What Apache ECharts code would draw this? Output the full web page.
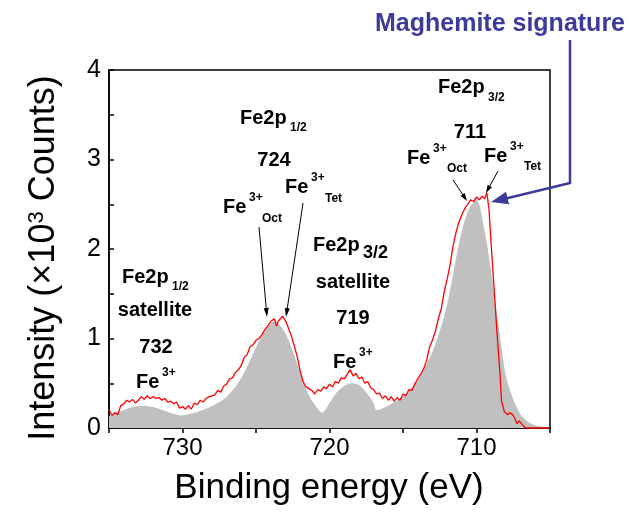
<!DOCTYPE html>
<html><head><meta charset="utf-8">
<script src="https://cdn.jsdelivr.net/npm/echarts@6/dist/echarts.min.js"></script>
<style>html,body{margin:0;padding:0;background:#fff}#c{width:643px;height:512px}</style>
</head><body><div id="c"></div><script>
// Reference (grey) spectrum
const refEnergy = [735.0,734.5,734.0,733.5,733.0,732.6,732.0,731.5,731.0,730.5,730.1,729.5,729.0,728.5,728.0,727.5,727.0,726.5,726.0,725.5,725.0,724.5,724.0,723.8,723.5,723.0,722.5,722.0,721.5,721.0,720.5,720.0,719.5,719.0,718.5,718.0,717.5,717.0,716.8,716.0,715.5,715.0,714.5,714.0,713.5,713.0,712.5,712.0,711.5,711.0,710.5,710.0,709.5,709.0,708.5,708.0,707.5,707.0,706.5,706.0,705.5,705.0];
const refCounts = [0.13,0.17,0.20,0.23,0.245,0.25,0.235,0.21,0.18,0.155,0.14,0.16,0.18,0.21,0.245,0.29,0.35,0.44,0.56,0.72,0.90,1.06,1.17,1.19,1.17,1.06,0.86,0.62,0.40,0.26,0.17,0.28,0.40,0.47,0.50,0.48,0.40,0.28,0.20,0.25,0.30,0.35,0.43,0.53,0.68,0.85,1.08,1.38,1.80,2.20,2.45,2.55,2.25,1.75,1.15,0.58,0.32,0.15,0.07,0.03,0.015,0.01];
// Measured (red) spectrum
const sampleEnergy = [735.0,734.8,734.6,734.4,734.2,734.0,733.8,733.6,733.4,733.2,733.0,732.8,732.6,732.4,732.2,732.0,731.8,731.6,731.4,731.2,731.0,730.8,730.6,730.4,730.2,730.0,729.8,729.6,729.4,729.2,729.0,728.8,728.6,728.4,728.2,728.0,727.8,727.6,727.4,727.2,727.0,726.8,726.6,726.4,726.2,726.0,725.8,725.6,725.4,725.2,725.0,724.8,724.6,724.4,724.2,724.0,723.9,723.75,723.6,723.5,723.35,723.2,723.0,722.8,722.6,722.4,722.2,722.0,721.8,721.6,721.4,721.2,721.0,720.8,720.6,720.4,720.2,720.0,719.8,719.6,719.4,719.2,719.0,718.8,718.6,718.4,718.2,718.0,717.8,717.6,717.4,717.2,717.0,716.8,716.6,716.4,716.2,716.0,715.8,715.6,715.4,715.2,715.0,714.8,714.6,714.4,714.2,714.0,713.8,713.6,713.4,713.2,713.0,712.8,712.6,712.4,712.2,712.0,711.8,711.6,711.4,711.2,711.0,710.8,710.6,710.4,710.2,710.0,709.8,709.6,709.45,709.3,709.15,709.0,708.8,708.6,708.4,708.3,708.1,707.9,707.7,707.5,707.35,707.25,707.1,707.0,706.85,706.65,706.0,705.0];
const sampleCounts = [0.21,0.14,0.17,0.15,0.25,0.27,0.31,0.29,0.32,0.28,0.31,0.35,0.32,0.36,0.33,0.35,0.33,0.34,0.31,0.33,0.29,0.30,0.27,0.29,0.22,0.24,0.21,0.25,0.21,0.28,0.26,0.31,0.29,0.33,0.35,0.36,0.37,0.42,0.40,0.47,0.49,0.55,0.56,0.62,0.65,0.70,0.79,0.82,0.91,0.93,0.98,1.00,1.04,1.10,1.14,1.19,1.21,1.22,1.14,1.19,1.22,1.25,1.20,1.12,1.03,0.92,0.80,0.64,0.52,0.46,0.44,0.42,0.38,0.43,0.41,0.46,0.44,0.49,0.46,0.52,0.50,0.56,0.55,0.60,0.65,0.58,0.61,0.55,0.57,0.50,0.52,0.45,0.43,0.38,0.39,0.33,0.36,0.31,0.35,0.30,0.34,0.31,0.38,0.36,0.43,0.42,0.49,0.55,0.60,0.66,0.75,0.90,0.98,1.08,1.22,1.33,1.52,1.66,1.82,2.03,2.18,2.30,2.38,2.45,2.50,2.55,2.53,2.58,2.55,2.59,2.56,2.63,2.45,2.05,1.55,1.05,0.60,0.30,0.18,0.15,0.17,0.14,0.09,0.05,0.08,0.07,0.03,0.0,0.0,0.0];
const xTickLabels = [730,720,710];
const yTickLabels = [0,1,2,3,4];

const FF = '"Liberation Sans", Arial, Helvetica, sans-serif';
const chart = echarts.init(document.getElementById('c'), null, {renderer:'canvas'});

function t(s, x, y, size, align, color) {
  return {type:'text', x:x, y:y, z:100, style:{text:s, fontSize:size, fontWeight:'bold', fontFamily:FF,
    fill: color || '#000', align: align || 'left', verticalAlign:'middle'}};
}
function arrow(x1,y1,x2,y2,color,lw,hl,hw) {
  const dx=x2-x1, dy=y2-y1, L=Math.sqrt(dx*dx+dy*dy), ux=dx/L, uy=dy/L;
  const bx=x2-ux*hl, by=y2-uy*hl, px=-uy*hw/2, py=ux*hw/2;
  return [
    {type:'line', z:100, shape:{x1:x1,y1:y1,x2:bx+ux*1,y2:by+uy*1}, style:{stroke:color, lineWidth:lw}},
    {type:'polygon', z:100, shape:{points:[[x2,y2],[bx+px,by+py],[bx-px,by-py]]}, style:{fill:color}}
  ];
}
const BLUE = '#3b3b9c';
const graphics = [
  // axis titles
  {type:'text', x:329, y:488, style:{text:'Binding energy (eV)', fontSize:35, fontFamily:FF, fill:'#000', align:'center', verticalAlign:'middle'}},
  {type:'text', x:44, y:258, rotation:Math.PI/2, style:{text:'{a|Intensity (×10}{s|3}{a| Counts)}', align:'center', verticalAlign:'middle',
    rich:{a:{fontSize:36, fontFamily:FF, fill:'#000', verticalAlign:'bottom'}, s:{fontSize:22, fontFamily:FF, fill:'#000', verticalAlign:'top'}}}},
  // title
  t('Maghemite signature', 500, 24, 25, 'center', BLUE),
  // Fe2p1/2 main
  t('Fe2p', 240, 118, 20), t('1/2', 290, 128, 12),
  t('724', 274, 160, 20, 'center'),
  t('Fe', 285, 187, 20), t('3+', 311, 178, 12), t('Tet', 325, 199, 12),
  t('Fe', 223, 207, 20), t('3+', 249, 198, 12), t('Oct', 262, 219, 12),
  // Fe2p3/2 main
  t('Fe2p', 438, 87, 20), t('3/2', 488, 98, 12),
  t('711', 470, 132, 20, 'center'),
  t('Fe', 407, 158, 20), t('3+', 433, 149, 12), t('Oct', 447, 169, 12),
  t('Fe', 484, 156, 20), t('3+', 510, 147, 12), t('Tet', 524, 167, 12),
  // satellite 719
  t('Fe2p', 313, 245, 20), t('3/2', 363, 253, 18),
  t('satellite', 353, 282, 20, 'center'),
  t('719', 353, 318, 20, 'center'),
  t('Fe', 333, 362, 20), t('3+', 359, 353, 12),
  // satellite 732
  t('Fe2p', 122, 277, 20), t('1/2', 172, 287, 12),
  t('satellite', 155, 310, 20, 'center'),
  t('732', 156, 347, 20, 'center'),
  t('Fe', 136, 382, 20), t('3+', 162, 373, 12),
  // blue polyline
  {type:'polyline', z:100, shape:{points:[[570,40],[570,183],[506,198.5]]}, style:{stroke:BLUE, lineWidth:2.5, fill:null}}
];
graphics.push(...arrow(259,227,267,317,'#000',1,9,5));
graphics.push(...arrow(303,203,286,317,'#000',1,9,5));
graphics.push(...arrow(453,180,467,201,'#000',1,8,5));
graphics.push(...arrow(498,171,486,193,'#000',1,8,5));
graphics.push(...arrow(570,183,491,202,BLUE,0,17,13));

chart.setOption({
  animation:false,
  backgroundColor:'#fff',
  grid:{left:109, right:93, top:70, bottom:84, show:true, borderColor:'#000', borderWidth:1.5, backgroundColor:'transparent'},
  xAxis:{type:'value', inverse:true, min:705, max:735, interval:5,
    axisLine:{show:true, lineStyle:{color:'#000', width:1.5}},
    axisTick:{show:true, inside:false, length:5, lineStyle:{color:'#000', width:1.5}},
    axisLabel:{color:'#000', fontSize:24, fontFamily:FF, margin:8, showMinLabel:true, showMaxLabel:true,
      formatter:function(v){return xTickLabels.indexOf(v)>=0 ? String(v) : '';}},
    splitLine:{show:false}},
  yAxis:{type:'value', min:0, max:4, interval:1,
    axisLine:{show:true, lineStyle:{color:'#000', width:1.5}},
    axisTick:{show:true, inside:true, length:5, lineStyle:{color:'#000', width:1.5}},
    minorTick:{show:true, splitNumber:2, length:5, lineStyle:{color:'#000', width:1.5}},
    axisLabel:{color:'#000', fontSize:25, fontFamily:FF, margin:8,
      formatter:function(v){return yTickLabels.indexOf(v)>=0 ? String(v) : '';}},
    splitLine:{show:false}},
  series:[
    {type:'line', data:refEnergy.map((e,i)=>[e,refCounts[i]]), showSymbol:false, smooth:0.3,
      lineStyle:{width:0, color:'#c0c0c0'}, itemStyle:{color:'#c0c0c0'}, areaStyle:{color:'#c0c0c0', opacity:1}, z:2},
    {type:'line', data:sampleEnergy.map((e,i)=>[e,sampleCounts[i]]), showSymbol:false,
      lineStyle:{width:1.3, color:'#ff0000'}, itemStyle:{color:'#ff0000'}, z:3}
  ],
  graphic:graphics
});
</script></body></html>
